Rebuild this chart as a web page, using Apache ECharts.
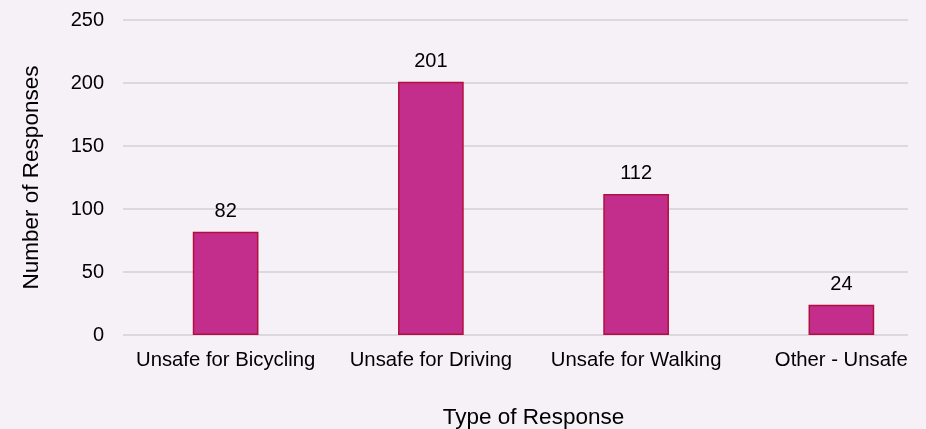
<!DOCTYPE html>
<html>
<head>
<meta charset="utf-8">
<script src="https://cdn.jsdelivr.net/npm/echarts@6/dist/echarts.min.js"></script>
<style>
    html, body { margin: 0; padding: 0; background: #f6f0f7; overflow: hidden; }
    #chart { width: 926px; height: 429px; }
</style>
</head>
<body>
<div id="chart"></div>
<script>
// 数据
var categories = ['Unsafe for Bicycling', 'Unsafe for Driving', 'Unsafe for Walking', 'Other - Unsafe'];
var responses = [82, 201, 112, 24];
var yTicks = [0, 50, 100, 150, 200, 250];

var font = 'Liberation Sans, Arial, sans-serif';
var myChart = echarts.init(document.getElementById('chart'));

var option = {
    backgroundColor: '#f6f0f7',
    animation: false,
    grid: {
        left: 123,
        right: -18,     // 原图右侧被裁掉
        top: 20,
        bottom: 94,
        outerBoundsMode: 'none'
    },
    xAxis: {
        type: 'category',
        data: categories,
        name: 'Type of Response',
        nameLocation: 'middle',
        nameGap: 71,
        nameTextStyle: { color: '#000', fontFamily: font, fontSize: 22.5 },
        axisLine: { show: false },
        axisTick: { show: false },
        axisLabel: { color: '#000', fontFamily: font, fontSize: 20.3, margin: 15, interval: 0 }
    },
    yAxis: {
        type: 'value',
        min: yTicks[0],
        max: yTicks[yTicks.length - 1],
        interval: yTicks[1] - yTicks[0],
        name: 'Number of Responses',
        nameLocation: 'middle',
        nameGap: 80,
        nameTextStyle: { color: '#000', fontFamily: font, fontSize: 22.5 },
        axisLine: { show: false },
        axisTick: { show: false },
        axisLabel: { color: '#000', fontFamily: font, fontSize: 20, margin: 19 },
        splitLine: { lineStyle: { color: '#d5cfd8', width: 1.5 } }
    },
    series: [{
        type: 'bar',
        data: responses,
        barWidth: '32%',
        itemStyle: {
            color: '#c32e8c',
            borderColor: '#b10f3f',
            borderWidth: 1.5
        },
        label: {
            show: true,
            position: 'top',
            distance: 10,
            color: '#000',
            fontFamily: font,
            fontSize: 20
        }
    }],
    graphic: [{
        // 右边裁切
        type: 'rect',
        left: 908,
        top: 0,
        shape: { width: 40, height: 429 },
        style: { fill: '#f6f0f7' },
        z: 100
    }]
};

myChart.setOption(option);
</script>
</body>
</html>
